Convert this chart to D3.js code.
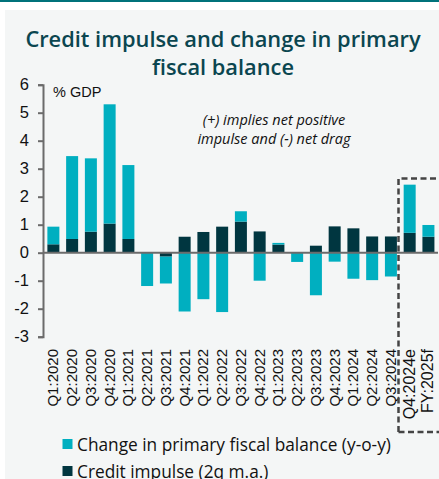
<html>
<head>
<meta charset="utf-8">
<script src="https://d3js.org/d3.v7.min.js"></script>
<style>
    html, body {
        margin: 0;
        padding: 0;
        background: #ffffff;
    }
    svg text { font-family: "Liberation Sans", Arial, sans-serif; }
</style>
</head>
<body>
<script>
    var categories = ["Q1:2020", "Q2:2020", "Q3:2020", "Q4:2020", "Q1:2021", "Q2:2021", "Q3:2021",
        "Q4:2021", "Q1:2022", "Q2:2022", "Q3:2022", "Q4:2022", "Q1:2023", "Q2:2023", "Q3:2023",
        "Q4:2023", "Q1:2024", "Q2:2024", "Q3:2024", "Q4:2024e", "FY:2025f"];
    var creditImpulse = [0.30, 0.49, 0.75, 1.04, 0.49, 0.00, -0.14, 0.57, 0.74, 0.93, 1.11,
        0.76, 0.29, 0.00, 0.25, 0.94, 0.87, 0.58, 0.58, 0.71, 0.57];
    var fiscalChange = [0.63, 2.96, 2.62, 4.26, 2.64, -1.19, -0.96, -2.10, -1.66, -2.12, 0.37,
        -1.00, 0.06, -0.33, -1.52, -0.32, -0.93, -0.98, -0.85, 1.72, 0.42];
    var yTicks = [-3, -2, -1, 0, 1, 2, 3, 4, 5, 6];
    var seriesNames = ["Change in primary fiscal balance (y-o-y)", "Credit impulse (2q m.a.)"];
    var colors = {fiscal: "#00afc0", credit: "#003640"};

    var width = 439, height = 479;

    var svg = d3.select("body").append("svg")
        .attr("width", width)
        .attr("height", height);

    // background panel
    svg.append("rect").attr("x", 0).attr("y", 0).attr("width", width).attr("height", 2).attr("fill", "#00727a");
    svg.append("rect").attr("x", 5).attr("y", 10).attr("width", width - 5).attr("height", height - 10).attr("fill", "#f4f6f6");

    // title
    var title = svg.append("text")
        .attr("text-anchor", "middle")
        .attr("fill", "#0b4650")
        .style("font-family", "'Open Sans', sans-serif")
        .style("font-weight", 600)
        .style("font-size", "21.8px");
    title.append("tspan").attr("x", 223).attr("y", 47).text("Credit impulse and change in primary");
    title.append("tspan").attr("x", 223).attr("y", 75).text("fiscal balance");

    var x = d3.scaleBand()
        .domain(categories)
        .range([44, 437.8])
        .paddingInner(0.36)
        .paddingOuter(0.18);

    var y = d3.scaleLinear()
        .domain([-3, 6])
        .range([336.7, 84.7]);

    // stacked data: credit first (bottom), fiscal on top; negatives stack downwards
    var rows = categories.map(function (c, i) {
        var ci = creditImpulse[i], fc = fiscalChange[i];
        var pos = 0, neg = 0, out = [];
        [["credit", ci], ["fiscal", fc]].forEach(function (s) {
            var v = s[1];
            if (v >= 0) { out.push({cat: c, key: s[0], y0: pos, y1: pos + v}); pos += v; }
            else { out.push({cat: c, key: s[0], y0: neg, y1: neg + v}); neg += v; }
        });
        return out;
    });

    var bars = svg.append("g");
    rows.forEach(function (r) {
        bars.selectAll(null).data(r).enter().append("rect")
            .attr("x", function (d) { return x(d.cat); })
            .attr("width", x.bandwidth())
            .attr("y", function (d) { return y(Math.max(d.y0, d.y1)); })
            .attr("height", function (d) { return Math.abs(y(d.y0) - y(d.y1)); })
            .attr("fill", function (d) { return colors[d.key]; });
    });

    // y axis
    var yAxis = svg.append("g")
        .attr("transform", "translate(43,0)")
        .call(d3.axisLeft(y).tickValues(yTicks).tickSize(5).tickPadding(9)
            .tickFormat(function (d) { return String(d); }));
    yAxis.select(".domain").attr("stroke", "#6b6b6b").attr("stroke-width", 2);
    yAxis.selectAll(".tick line").attr("stroke", "#6b6b6b").attr("stroke-width", 2);
    yAxis.selectAll(".tick text").attr("fill", "#111").style("font-size", "16.5px");

    // zero line
    svg.append("line")
        .attr("x1", 43).attr("x2", 438)
        .attr("y1", y(0)).attr("y2", y(0))
        .attr("stroke", "#6b6b6b").attr("stroke-width", 2);

    // category labels
    svg.append("g").selectAll("text").data(categories).enter().append("text")
        .attr("transform", function (d) {
            return "translate(" + (x(d) + x.bandwidth() / 2 + 5) + ",349) rotate(-90)";
        })
        .attr("text-anchor", "end")
        .attr("fill", "#111")
        .style("font-size", function (d, i) { return i >= 19 ? "16px" : "15px"; })
        .text(function (d) { return d; });

    // dashed box around forecasts
    svg.append("path")
        .attr("d", "M398.5,432 L398.5,178.5 L445,178.5 M398.5,432 L445,432")
        .attr("fill", "none")
        .attr("stroke", "#444")
        .attr("stroke-width", 2.5)
        .attr("stroke-dasharray", "6,3.5");

    svg.append("text")
        .attr("x", 53).attr("y", 97)
        .attr("fill", "#111")
        .style("font-size", "14.5px")
        .text("% GDP");

    var note = svg.append("text")
        .attr("text-anchor", "middle")
        .attr("fill", "#111")
        .style("font-family", "'Open Sans', sans-serif")
        .style("font-style", "italic")
        .style("font-size", "14.5px");
    note.append("tspan").attr("x", 274).attr("y", 125).text("(+) implies net positive");
    note.append("tspan").attr("x", 274).attr("y", 144).text("impulse and (-) net drag");

    // legend
    var legend = svg.append("g");
    [["fiscal", seriesNames[0]], ["credit", seriesNames[1]]].forEach(function (s, i) {
        legend.append("rect")
            .attr("x", 62.5).attr("y", 439 + i * 27)
            .attr("width", 10).attr("height", 10)
            .attr("fill", colors[s[0]]);
        legend.append("text")
            .attr("x", 77).attr("y", 450.5 + i * 27)
            .attr("fill", "#111")
            .style("font-family", "'Open Sans', sans-serif")
            .style("font-size", "17.3px")
            .text(s[1]);
    });
</script>
</body>
</html>
